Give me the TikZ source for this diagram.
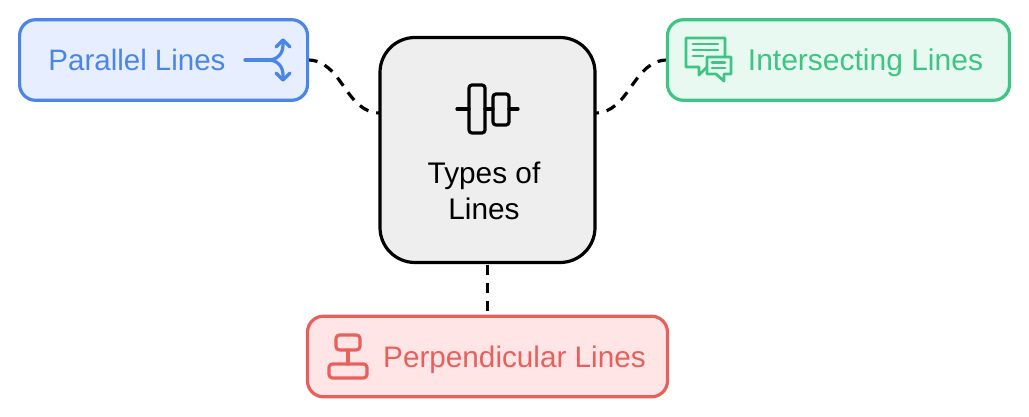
\documentclass[tikz,border=0pt]{standalone}
\usepackage{fontspec}
\setmainfont{Liberation Sans}
\usetikzlibrary{backgrounds}
\definecolor{bluec}{HTML}{4A86E8}
\definecolor{bluef}{HTML}{E6EEFF}
\definecolor{greenc}{HTML}{3CC583}
\definecolor{greenf}{HTML}{E8F9F1}
\definecolor{redc}{HTML}{E8605C}
\definecolor{redf}{HTML}{FFE5E5}
\definecolor{grayf}{HTML}{EEEEEE}
\tikzset{
  boxnode/.style={draw,line width=3.2pt,rounded corners=16pt,outer sep=0pt,inner sep=0pt},
  labeltext/.style={anchor=base,inner sep=0pt,outer sep=0pt},
  link/.style={draw=black,line width=3.2pt,dash pattern=on 10pt off 8pt},
  glyph/.style={line width=3.2pt,line cap=round,line join=round},
  thinglyph/.style={line width=2.8pt,line cap=round,line join=round}
}
\begin{document}
\begin{tikzpicture}[x=1pt,y=-1pt]
\useasboundingbox (0,0) rectangle (1029,417);
% boxes
\node[boxnode,draw=bluec,fill=bluef,minimum width=288pt,minimum height=80.6pt] (par) at (163.6,60) {};
\node[boxnode,draw=greenc,fill=greenf,minimum width=342pt,minimum height=80.6pt] (int) at (838.5,60) {};
\node[boxnode,draw=redc,fill=redf,minimum width=360pt,minimum height=80.6pt] (perp) at (487.5,356.5) {};
\node[boxnode,draw=black,fill=grayf,rounded corners=35pt,minimum width=215pt,minimum height=225pt] (types) at (487.5,150) {};
% connector ends on the central box
\coordinate (tl) at (types.west |- 0,113);
\coordinate (tr) at (types.east |- 0,113);
\begin{scope}[on background layer]
\draw[link] (par.east) .. controls +(35,0) and ([xshift=-35pt]tl) .. (tl);
\draw[link] (int.west) .. controls +(-35,0) and ([xshift=35pt]tr) .. (tr);
\draw[link,dash phase=-2pt] (types.south) -- (perp.north);
\end{scope}
% labels
\node[labeltext,text=bluec,font=\fontsize{29.5}{35}\selectfont] (partext) at (137,71) {Parallel Lines};
\node[labeltext,text=greenc,font=\fontsize{30}{35}\selectfont] (inttext) at (865.5,71) {Intersecting Lines};
\node[labeltext,text=redc,font=\fontsize{29.7}{35}\selectfont] (perptext) at (514.5,367) {Perpendicular Lines};
\node[labeltext,text=black,font=\fontsize{29.8}{35}\selectfont] (typesa) at (484,184) {Types of};
\node[labeltext,text=black,font=\fontsize{29.8}{35}\selectfont] (typesb) at (484,219) {Lines};
% central icon
\draw[glyph,rounded corners=3pt] (469,85) rectangle (485,133);
\draw[glyph,rounded corners=3pt] (493,94) rectangle (509,125);
\draw[glyph] (457,109) -- (469,109) (485,109) -- (493,109) (509,109) -- (518,109);
% parallel icon
\draw[glyph,draw=bluec] (245,60) -- (270,60);
\draw[glyph,draw=bluec] (268,60) .. controls (277,60) and (283,54) .. (283,45) -- (283,40);
\draw[glyph,draw=bluec] (268,60) .. controls (277,60) and (283,66) .. (283,75) -- (283,80);
\draw[glyph,draw=bluec] (276,47) -- (283,40) -- (290,47);
\draw[glyph,draw=bluec] (276,73) -- (283,80) -- (290,73);
% intersecting icon
\draw[thinglyph,draw=greenc] (707,67) -- (699,75) -- (699,67) -- (686,67) -- (686,38) -- (725,38) -- (725,57);
\draw[thinglyph,draw=greenc] (693,44) -- (718,44) (693,50) -- (718,50) (693,56) -- (703,56);
\draw[thinglyph,draw=greenc] (707,57) -- (731,57) -- (731,74) -- (724,74) -- (724,81) -- (716,74) -- (707,74) -- cycle;
\draw[thinglyph,draw=greenc] (712,62.5) -- (725,62.5) (712,68) -- (725,68);
% perpendicular icon
\draw[glyph,draw=redc,rounded corners=3.5pt] (336,335) rectangle (360,350);
\draw[glyph,draw=redc,rounded corners=3.5pt] (329,364) rectangle (367,378);
\draw[glyph,draw=redc] (348,350) -- (348,364);
\end{tikzpicture}
\end{document}
